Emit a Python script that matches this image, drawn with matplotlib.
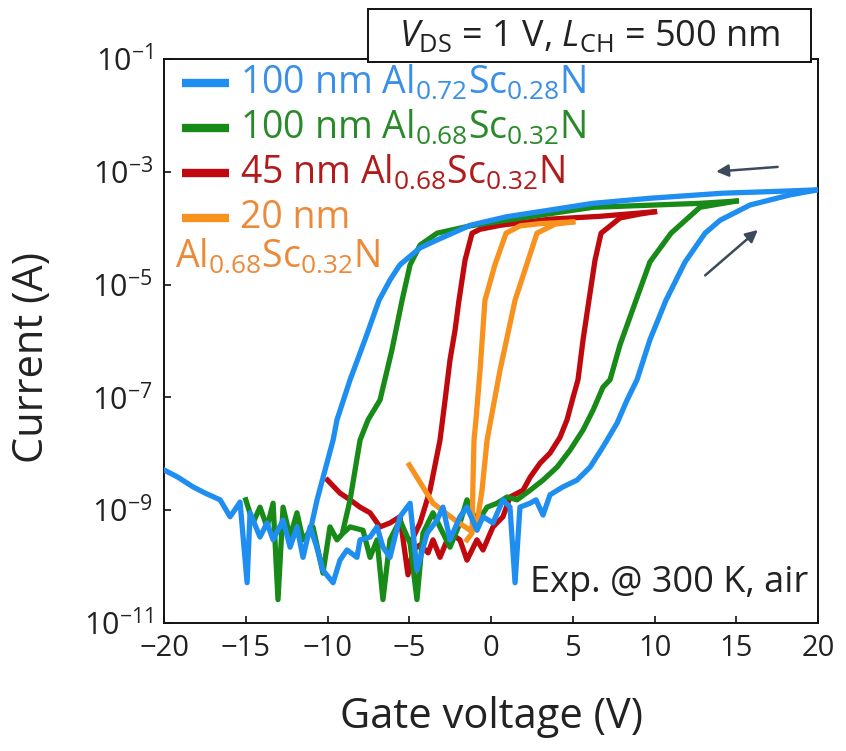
import numpy as np
import matplotlib
matplotlib.use("Agg")
import matplotlib.pyplot as plt
from matplotlib.patches import Rectangle

plt.rcParams['font.family'] = ['Open Sans', 'DejaVu Sans']
plt.rcParams['mathtext.fontset'] = 'custom'
plt.rcParams['mathtext.rm'] = 'Open Sans'
plt.rcParams['mathtext.it'] = 'Open Sans:italic'
plt.rcParams['mathtext.bf'] = 'Open Sans:bold'

# Gate voltage (V) and log10(current / A)
# 100 nm Al0.72Sc0.28N
blue_fwd_v = [-20.0, -19.14, -18.23, -17.49, -16.57, -15.96, -15.35, -14.92, -14.74, -14.13,
              -13.70, -13.33, -12.72, -12.29, -11.87, -11.50, -11.07, -10.70, -10.28, -9.66,
              -9.24, -8.81, -8.20, -8.01, -7.40, -6.97, -6.61, -6.18, -5.57, -4.95,
              -4.53, -3.91, -3.30, -2.94, -2.51, -1.90, -1.47, -0.86, -0.49, 0.12,
              0.73, 1.16, 1.47, 1.77, 2.39, 2.75, 3.18, 3.61, 4.40, 5.26,
              6.06, 6.85, 7.71, 8.32, 8.93, 9.72, 10.70, 11.87, 13.09, 14.01,
              15.84, 18.29, 20.0]
blue_fwd_logi = [-8.29, -8.42, -8.59, -8.70, -8.82, -9.12, -8.86, -10.29, -9.05, -9.48,
                 -9.23, -9.53, -9.18, -9.66, -9.30, -9.84, -9.30, -9.62, -10.07, -10.29,
                 -9.89, -9.71, -9.84, -9.53, -9.48, -9.30, -9.66, -9.84, -9.12, -8.88,
                 -10.07, -9.41, -9.18, -8.95, -9.53, -9.12, -8.95, -9.36, -9.12, -9.23,
                 -8.82, -8.95, -10.29, -8.95, -8.88, -8.82, -9.09, -8.73, -8.59, -8.47,
                 -8.24, -7.88, -7.46, -7.05, -6.69, -5.98, -5.28, -4.60, -4.09, -3.86,
                 -3.59, -3.41, -3.32]
blue_bwd_v = [20.0, 18.29, 14.19, 9.72, 6.24, 0.92, -1.28, -3.30, -4.34, -5.57,
              -6.18, -6.85, -7.71, -8.62, -9.42, -9.66, -10.15, -10.64, -10.95]
blue_bwd_logi = [-3.32, -3.34, -3.38, -3.47, -3.56, -3.80, -3.95, -4.21, -4.35, -4.65,
                 -4.92, -5.28, -5.98, -6.69, -7.40, -7.76, -8.29, -8.82, -9.23]

# 100 nm Al0.68Sc0.32N
green_fwd_v = [-15.0, -14.56, -14.13, -13.70, -13.33, -13.03, -12.72, -12.29, -11.87, -11.50,
               -10.89, -10.28, -9.85, -9.42, -9.05, -8.62, -7.83, -7.40, -6.97, -6.61,
               -6.18, -5.57, -4.95, -4.53, -4.16, -3.55, -2.94, -2.51, -1.90, -1.47,
               -0.86, -0.24, 0.37, 0.98, 1.59, 2.39, 3.18, 4.04, 4.83, 5.63,
               6.24, 6.85, 7.28, 7.89, 8.87, 9.72, 11.01, 12.78, 15.0]
green_fwd_logi = [-8.82, -9.23, -8.95, -9.30, -8.88, -10.59, -8.95, -9.48, -9.05, -9.53,
                  -9.30, -10.12, -9.30, -9.53, -9.41, -9.30, -9.36, -9.84, -9.53, -10.59,
                  -9.53, -9.18, -9.59, -10.59, -9.41, -9.05, -9.41, -9.66, -9.23, -8.82,
                  -9.23, -8.95, -8.88, -8.77, -8.82, -8.65, -8.47, -8.24, -7.94, -7.58,
                  -7.23, -6.82, -6.69, -6.07, -5.28, -4.60, -4.09, -3.63, -3.52]
green_bwd_v = [15.0, 12.78, 6.24, 0.92, -1.28, -3.30, -4.34, -4.95, -5.44, -6.06,
               -6.79, -7.52, -8.01, -8.62, -9.05]
green_bwd_logi = [-3.52, -3.56, -3.63, -3.86, -3.96, -4.09, -4.30, -4.65, -5.28, -6.16,
                  -7.05, -7.40, -7.76, -8.82, -9.36]

# 45 nm Al0.68Sc0.32N
red_fwd_v = [-10.0, -9.24, -8.62, -8.01, -7.40, -6.79, -6.18, -5.57, -5.08, -4.77,
             -4.34, -3.85, -3.55, -3.12, -2.51, -1.90, -1.47, -0.86, -0.49, 0.12,
             0.73, 1.16, 1.96, 2.39, 3.00, 3.61, 4.22, 4.65, 5.02, 5.32,
             5.63, 5.99, 6.36, 6.73, 7.89, 9.11, 10.0]
red_fwd_logi = [-8.47, -8.70, -8.82, -8.95, -9.05, -9.30, -9.23, -9.12, -10.15, -9.71,
                -9.62, -9.76, -9.53, -9.84, -9.41, -9.53, -9.89, -9.53, -9.71, -9.30,
                -9.12, -8.77, -8.65, -8.42, -8.17, -7.99, -7.71, -7.40, -7.00, -6.69,
                -5.98, -5.28, -4.57, -4.09, -3.82, -3.75, -3.71]
red_bwd_v = [10.0, 6.67, 3.61, 0.55, -0.67, -1.16, -1.59, -1.96, -2.20, -2.51,
             -2.81, -3.12, -3.73, -4.34, -4.83]
red_bwd_logi = [-3.71, -3.79, -3.84, -3.95, -4.02, -4.09, -4.57, -5.28, -5.81, -6.34,
                -7.05, -7.76, -8.65, -9.23, -9.53]

# 20 nm Al0.68Sc0.32N
orange_fwd_v = [-5.0, -3.55, -2.20, -1.28, -0.80, -0.55, -0.24, 0.55, 1.47, 2.81, 3.91, 5.0]
orange_fwd_logi = [-8.20, -8.88, -9.18, -9.36, -9.12, -8.65, -7.76, -6.52, -5.28, -4.09, -3.93, -3.89]
orange_bwd_v = [5.0, 3.00, 1.77, 0.92, 0.24, -0.37, -0.67, -0.92, -1.04, -1.10, -1.16, -1.47]
orange_bwd_logi = [-3.89, -3.92, -3.96, -4.09, -4.65, -5.28, -6.52, -7.40, -7.76, -8.47, -9.41, -9.53]

blue = '#1f8ef1'
green = '#178a17'
red = '#c0090f'
orange = '#f7921f'
ink = '#222222'

fig = plt.figure(figsize=(8.46, 7.51), dpi=100)
ax = fig.add_axes([0.1939, 0.1708, 0.7730, 0.7506])

lw = 3.8
series = [
    (red_fwd_v, red_fwd_logi, red_bwd_v, red_bwd_logi, red, 2),
    (green_fwd_v, green_fwd_logi, green_bwd_v, green_bwd_logi, green, 3),
    (orange_fwd_v, orange_fwd_logi, orange_bwd_v, orange_bwd_logi, orange, 4),
    (blue_fwd_v, blue_fwd_logi, blue_bwd_v, blue_bwd_logi, blue, 5),
]
for fv, fl, bv, bl, c, z in series:
    ax.plot(fv, 10.0 ** np.array(fl), color=c, lw=lw, zorder=z, solid_joinstyle='round')
    ax.plot(bv, 10.0 ** np.array(bl), color=c, lw=lw, zorder=z, solid_joinstyle='round')

ax.set_yscale('log')
ax.set_xlim(-20, 20)
ax.set_ylim(1e-11, 1e-1)
ax.set_xticks(np.arange(-20, 21, 5))
ax.set_xticklabels(['\u221220', '\u221215', '\u221210', '\u22125', '0', '5', '10', '15', '20'])
yt = [1e-11, 1e-9, 1e-7, 1e-5, 1e-3, 1e-1]
ax.set_yticks(yt)
ax.set_yticklabels(['$10^{\u221211}$', '$10^{\u22129}$', '$10^{\u22127}$',
                    '$10^{\u22125}$', '$10^{\u22123}$', '$10^{\u22121}$'])
ax.minorticks_off()
ax.tick_params(direction='in', length=5, width=1.3, labelsize=21, colors=ink, pad=8)
ax.tick_params(axis='y', labelsize=22)
for s in ax.spines.values():
    s.set_linewidth(1.4)
    s.set_color('#111111')

ax.set_xlabel('Gate voltage (V)', fontsize=30, color=ink)
ax.xaxis.set_label_coords(0.5, -0.13)
ax.xaxis.label.set_va('top')
ax.set_ylabel('Current (A)', fontsize=30, color=ink)
ax.yaxis.set_label_coords(-0.17, 0.47)

# legend drawn by hand
leg_rows = [
    ('100 nm Al$_{0.72}$Sc$_{0.28}$N', blue, '#3a8fe8'),
    ('100 nm Al$_{0.68}$Sc$_{0.32}$N', green, '#2a8a2a'),
    ('45 nm Al$_{0.68}$Sc$_{0.32}$N', red, '#b31a1a'),
    ('20 nm', orange, '#ec8a3a'),
]
ys = [0.957, 0.878, 0.798, 0.718]
for (lab, c, tc), yy in zip(leg_rows, ys):
    ax.plot([0.0275, 0.0994], [yy, yy], color=c, lw=6, transform=ax.transAxes,
            solid_capstyle='butt', zorder=6)
    ax.text(0.116, yy, lab, color=tc, fontsize=27, va='center', ha='left',
            transform=ax.transAxes, zorder=6)
ax.text(0.017, 0.649, 'Al$_{0.68}$Sc$_{0.32}$N', color='#ec8a3a', fontsize=27,
        va='center', ha='left', transform=ax.transAxes, zorder=6)

ax.text(0.985, 0.07, 'Exp. @ 300 K, air', fontsize=26, color=ink,
        ha='right', va='center', transform=ax.transAxes)

# sweep direction arrows
arr = dict(arrowstyle='-|>', color='#3d4a5c', lw=1.8, mutation_scale=18)
ax.annotate('', xy=(13.6, 10 ** -3.0), xytext=(17.7, 10 ** -2.91), arrowprops=arr)
ax.annotate('', xy=(16.45, 10 ** -4.0), xytext=(12.97, 10 ** -4.87), arrowprops=arr)

# condition box above the frame
fig.patches.append(Rectangle((368 / 846, 1 - 62 / 751), 443 / 846, 53 / 751,
                             transform=fig.transFigure, facecolor='white',
                             edgecolor='#111111', lw=1.4, zorder=10))
fig.text(590 / 846, 1 - 37 / 751, '$V_{\\mathrm{DS}}$ = 1 V, $L_{\\mathrm{CH}}$ = 500 nm',
         fontsize=26, ha='center', va='center', color=ink, zorder=11)

fig.savefig('out.png', dpi=100)
